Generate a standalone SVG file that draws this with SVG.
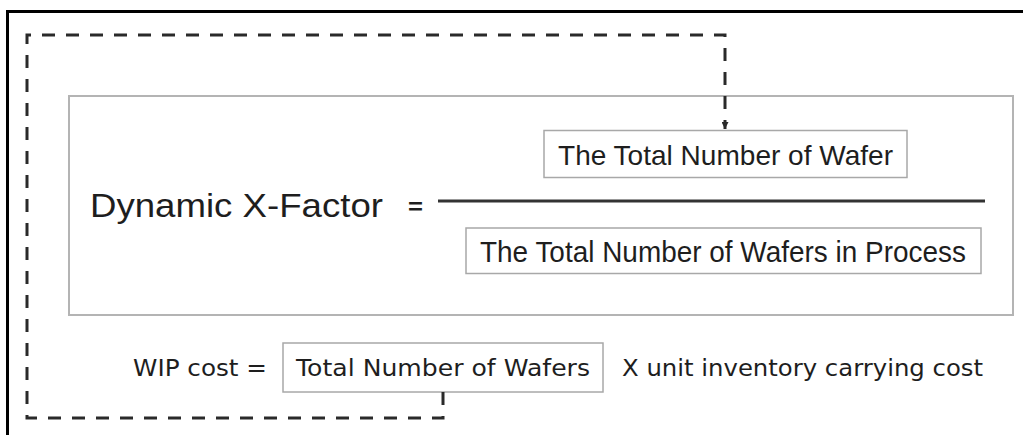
<svg xmlns="http://www.w3.org/2000/svg" width="1023" height="435" viewBox="0 0 1023 435">
  <style>
    .frame { fill: none; stroke: #000; stroke-width: 3; }
    .panel { fill: #fff; stroke: #b4b4b4; stroke-width: 2; }
    .term { fill: #fff; stroke: #a8a8a8; stroke-width: 1.5; }
    .flow { fill: none; stroke: #2a2a2a; stroke-width: 3; stroke-dasharray: 13 11; }
    .arial { font-family: "Liberation Sans", Arial, sans-serif; fill: #1e1e1e; }
    .tahoma { font-family: "DejaVu Sans", Tahoma, sans-serif; fill: #1e1e1e; }
  </style>
  <defs>
    <marker id="tip" markerWidth="8" markerHeight="7" refX="7" refY="3.5" orient="auto" markerUnits="userSpaceOnUse">
      <path d="M0,0 L7,3.5 L0,7 Z" fill="#2a2a2a"/>
    </marker>
  </defs>
  <rect width="1023" height="435" fill="#fff"/>
  <!-- outer frame -->
  <rect class="frame" x="7.5" y="11.5" width="1020" height="430"/>

  <!-- formula panel -->
  <g id="xfactor-panel">
    <rect class="panel" x="69" y="96" width="944" height="219"/>
    <text class="arial" x="90" y="217" font-size="33" textLength="293" lengthAdjust="spacingAndGlyphs">Dynamic X-Factor</text>
    <text class="arial" x="408" y="214" font-size="22" font-weight="bold" textLength="15" lengthAdjust="spacingAndGlyphs">=</text>
    <line x1="438" y1="201" x2="985" y2="201" stroke="#333" stroke-width="3"/>
  </g>

  <g id="numerator">
    <rect class="term" x="544" y="130.5" width="363" height="47"/>
    <text class="arial" x="558" y="165" font-size="28" textLength="335" lengthAdjust="spacingAndGlyphs">The Total Number of Wafer</text>
  </g>

  <g id="denominator">
    <rect class="term" x="466" y="228" width="515" height="45.5"/>
    <text class="arial" x="480" y="262" font-size="29" textLength="486" lengthAdjust="spacingAndGlyphs">The Total Number of Wafers in Process</text>
  </g>

  <!-- WIP cost line -->
  <g id="wip-cost">
    <text class="tahoma" x="133" y="376" font-size="23" textLength="134" lengthAdjust="spacingAndGlyphs">WIP cost =</text>
  </g>
  <g id="wafers-term">
    <rect class="term" x="283" y="343" width="320" height="49"/>
    <text class="tahoma" x="296" y="376" font-size="23" textLength="294" lengthAdjust="spacingAndGlyphs">Total Number of Wafers</text>
  </g>
  <g id="carrying-cost">
    <text class="tahoma" x="622" y="376" font-size="23" textLength="361" lengthAdjust="spacingAndGlyphs">X unit inventory carrying cost</text>
  </g>

  <!-- feedback connector from wafers term up to numerator -->
  <g id="connectors">
    <path class="flow" d="M443,392 V418 H27 V35 H725 V129" marker-end="url(#tip)"/>
  </g>
</svg>
